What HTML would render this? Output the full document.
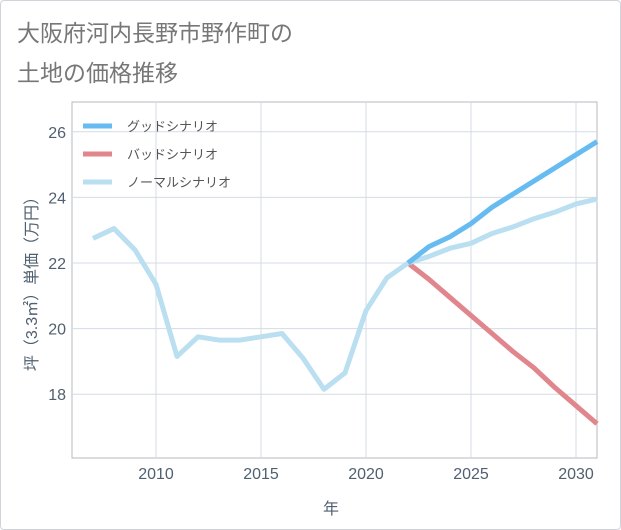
<!DOCTYPE html>
<html><head><meta charset="utf-8"><style>
body{margin:0;background:#fff;font-family:"Liberation Sans","Noto Sans CJK JP",sans-serif;}
.wrap{position:relative;width:619px;height:528px;border:1px solid #d0d4da;border-radius:4px;}
</style></head><body>
<div class="wrap">
<svg id="chart" width="621" height="530" style="position:absolute;left:-1px;top:-1px">
<text x="17" y="41" font-size="23" fill="#777" font-family="Liberation Sans, Noto Sans CJK JP, sans-serif">大阪府河内長野市野作町の</text>
<text x="17" y="81" font-size="23" fill="#777" font-family="Liberation Sans, Noto Sans CJK JP, sans-serif">土地の価格推移</text>
<rect x="72" y="102" width="525" height="356" fill="none" stroke="#b4bac2"/>
<g id="grid"></g><g id="series"></g><g id="legend"></g>
<text x="331" y="514" font-size="16" fill="#506070" text-anchor="middle" font-family="Liberation Sans, Noto Sans CJK JP, sans-serif">年</text>
<text transform="translate(37,280) rotate(-90)" font-size="16" fill="#506070" text-anchor="middle" font-family="Liberation Sans, Noto Sans CJK JP, sans-serif">坪（3.3㎡）単価（万円）</text>
</svg>
</div>
<script>
const years=[2007,2008,2009,2010,2011,2012,2013,2014,2015,2016,2017,2018,2019,2020,2021,2022,2023,2024,2025,2026,2027,2028,2029,2030,2031];
const normal=[22.75,23.05,22.4,21.35,19.15,19.75,19.65,19.65,19.75,19.85,19.1,18.15,18.65,20.55,21.55,22.0,22.2,22.45,22.6,22.9,23.1,23.35,23.55,23.8,23.95];
const goodYears=[2022,2023,2024,2025,2026,2027,2028,2029,2030,2031];
const good=[22.0,22.5,22.8,23.2,23.7,24.1,24.5,24.9,25.3,25.7];
const bad=[22.0,21.5,20.95,20.4,19.85,19.3,18.8,18.2,17.65,17.1];
const xTicks=[2010,2015,2020,2025,2030];
const yTicks=[18,20,22,24,26];
const legendLabels=["グッドシナリオ","バッドシナリオ","ノーマルシナリオ"];
const NS="http://www.w3.org/2000/svg";
const X=y=>156+(y-2010)*21;
const Y=v=>263-(v-22)*32.8;
function mk(tag,attrs,parent){const e=document.createElementNS(NS,tag);for(const k in attrs)e.setAttribute(k,attrs[k]);parent.appendChild(e);return e;}
const grid=document.getElementById('grid');
xTicks.forEach(t=>{
 const l=mk('line',{x1:X(t),x2:X(t),y1:102,y2:458,stroke:'#d5dce4'},grid);
 
 
 const tx=mk('text',{x:X(t),y:479,'font-size':16,fill:'#506070','text-anchor':'middle'},grid);tx.textContent=t;
 
 
});
yTicks.forEach(t=>{
 const l=mk('line',{x1:72,x2:597,y1:Y(t),y2:Y(t),stroke:'#d5dce4'},grid);
 
 
 const tx=mk('text',{x:66,y:Y(t)+6,'font-size':16,fill:'#506070','text-anchor':'end'},grid);tx.textContent=t;
 
 
});
const ser=document.getElementById('series');
function line(xs,vs,color,name){
 const p=mk('polyline',{points:xs.map((x,i)=>X(x)+','+Y(vs[i])).join(' '),fill:'none',stroke:color,'stroke-width':5,'stroke-linejoin':'round'},ser);
 
 
}
line(goodYears,bad,'#e0868c','bad-scenario-line');
line(years,normal,'#b9dff0','normal-scenario-line');
line(goodYears,good,'#66bbf0','good-scenario-line');
const lg=document.getElementById('legend');
const colors=['#66bbf0','#e0868c','#b9dff0'];
legendLabels.forEach((lab,i)=>{
 const y=126+i*28;
 const l=mk('line',{x1:83,x2:112,y1:y,y2:y,stroke:colors[i],'stroke-width':5},lg);
 
 
 const t=mk('text',{x:127,y:y+5,'font-size':13,fill:'#555'},lg);t.textContent=lab;
 
 
});
</script>
</body></html>
